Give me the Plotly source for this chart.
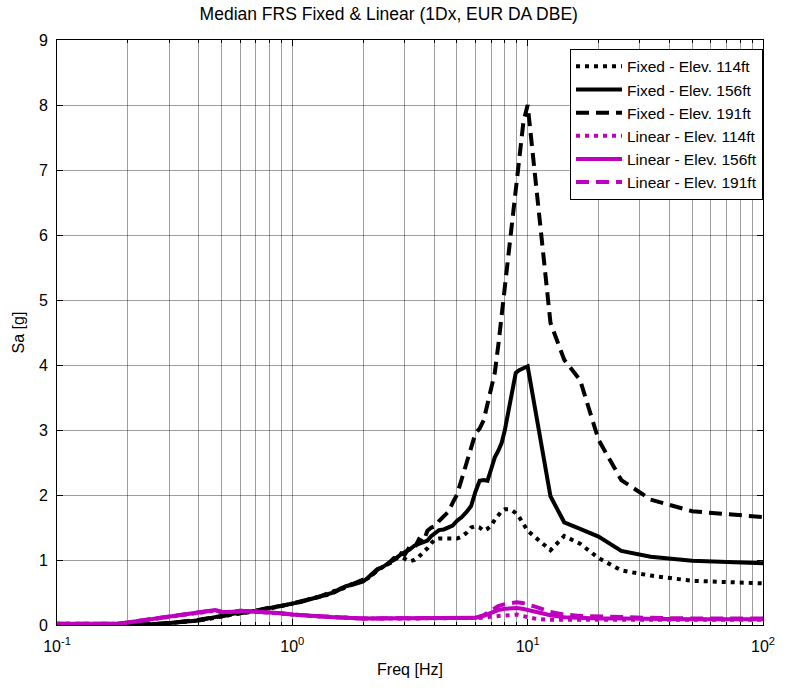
import plotly.graph_objects as go

# ---------------- data ----------------
freq_fixed = [0.10, 0.15, 0.20, 0.25, 0.30, 0.35, 0.40, 0.45, 0.50, 0.55,
              0.60, 0.70, 0.80, 0.90, 1.00, 1.10, 1.20, 1.30, 1.40, 1.50,
              1.60, 1.70, 1.80, 1.90, 2.00, 2.10, 2.20, 2.30, 2.40, 2.50,
              2.60, 2.70, 2.80, 2.90, 3.00, 3.15, 3.30, 3.45, 3.60, 3.75,
              3.90, 4.05, 4.20, 4.40, 4.60, 4.80, 5.00, 5.25, 5.50, 5.75,
              6.00, 6.25, 6.50, 6.75, 7.00, 7.25, 7.50, 7.75, 8.00, 8.30,
              8.60, 8.90, 9.20, 9.60, 10.0, 12.5, 14.3, 16.7, 20.0, 25.0,
              33.3, 50.0, 100.0]

fixed_114 = [0.00, 0.00, 0.00, 0.01, 0.03, 0.05, 0.07, 0.10, 0.13, 0.16,
             0.18, 0.21, 0.25, 0.30, 0.33, 0.36, 0.41, 0.44, 0.46, 0.52,
             0.55, 0.58, 0.64, 0.66, 0.68, 0.72, 0.79, 0.83, 0.89, 0.92,
             0.95, 0.98, 1.04, 1.05, 1.02, 0.98, 1.00, 1.05, 1.12, 1.18,
             1.26, 1.32, 1.33, 1.33, 1.33, 1.34, 1.33, 1.36, 1.42, 1.50,
             1.52, 1.50, 1.45, 1.48, 1.53, 1.62, 1.70, 1.75, 1.78, 1.78,
             1.76, 1.72, 1.66, 1.55, 1.45, 1.15, 1.37, 1.25, 1.03, 0.84,
             0.76, 0.68, 0.64]

fixed_156 = [0.00, 0.00, 0.00, 0.01, 0.03, 0.05, 0.07, 0.11, 0.14, 0.16,
             0.19, 0.22, 0.26, 0.29, 0.33, 0.36, 0.40, 0.44, 0.47, 0.50,
             0.56, 0.60, 0.62, 0.64, 0.67, 0.73, 0.80, 0.86, 0.88, 0.93,
             0.97, 1.00, 1.05, 1.09, 1.12, 1.16, 1.22, 1.25, 1.27, 1.30,
             1.37, 1.42, 1.46, 1.47, 1.50, 1.53, 1.60, 1.66, 1.74, 1.83,
             2.05, 2.22, 2.23, 2.22, 2.40, 2.58, 2.68, 2.80, 3.00, 3.28,
             3.60, 3.88, 3.92, 3.95, 3.98, 1.98, 1.58, 1.48, 1.36, 1.14,
             1.05, 0.99, 0.95]

fixed_191 = [0.00, 0.00, 0.00, 0.01, 0.03, 0.05, 0.08, 0.11, 0.13, 0.16,
             0.18, 0.22, 0.27, 0.29, 0.34, 0.37, 0.40, 0.43, 0.48, 0.50,
             0.55, 0.59, 0.63, 0.65, 0.70, 0.75, 0.78, 0.85, 0.90, 0.91,
             0.98, 1.03, 1.02, 1.10, 1.08, 1.20, 1.18, 1.32, 1.28, 1.45,
             1.50, 1.52, 1.60, 1.68, 1.74, 1.88, 2.00, 2.25, 2.50, 2.75,
             2.95, 3.02, 3.15, 3.40, 3.65, 3.88, 4.30, 4.75, 5.15, 5.65,
             6.15, 6.60, 7.10, 7.75, 8.00, 4.65, 4.08, 3.77, 2.85, 2.23,
             1.93, 1.75, 1.66]

freq_linear = [0.10, 0.15, 0.18, 0.20, 0.25, 0.30, 0.35, 0.40, 0.45, 0.47,
               0.50, 0.55, 0.60, 0.70, 0.80, 0.90, 1.00, 1.20, 1.50, 2.00,
               3.00, 4.00, 5.00, 5.50, 6.00, 6.50, 7.00, 7.50, 8.00, 8.50,
               9.00, 9.50, 10.0, 11.0, 12.5, 14.3, 16.7, 20.0, 25.0, 33.3,
               50.0, 100.0]

linear_114 = [0.02, 0.02, 0.02, 0.04, 0.09, 0.13, 0.16, 0.19, 0.22, 0.22,
              0.20, 0.20, 0.21, 0.21, 0.19, 0.17, 0.16, 0.14, 0.12, 0.10,
              0.10, 0.10, 0.10, 0.10, 0.10, 0.11, 0.13, 0.14, 0.15, 0.16,
              0.16, 0.14, 0.12, 0.09, 0.08, 0.08, 0.08, 0.08, 0.08, 0.08,
              0.08, 0.08]

linear_156 = [0.02, 0.02, 0.02, 0.04, 0.09, 0.13, 0.16, 0.19, 0.23, 0.23,
              0.20, 0.20, 0.22, 0.21, 0.19, 0.18, 0.16, 0.14, 0.12, 0.10,
              0.10, 0.10, 0.10, 0.10, 0.11, 0.14, 0.19, 0.23, 0.25, 0.26,
              0.26, 0.25, 0.23, 0.19, 0.15, 0.12, 0.11, 0.10, 0.10, 0.09,
              0.09, 0.09]

linear_191 = [0.02, 0.02, 0.02, 0.04, 0.09, 0.13, 0.16, 0.19, 0.23, 0.23,
              0.20, 0.20, 0.22, 0.21, 0.19, 0.18, 0.16, 0.14, 0.12, 0.10,
              0.10, 0.10, 0.10, 0.10, 0.11, 0.15, 0.22, 0.29, 0.32, 0.34,
              0.35, 0.34, 0.32, 0.27, 0.20, 0.16, 0.14, 0.13, 0.12, 0.11,
              0.10, 0.10]

series_names = ["Fixed - Elev. 114ft", "Fixed - Elev. 156ft", "Fixed - Elev. 191ft",
                "Linear - Elev. 114ft", "Linear - Elev. 156ft", "Linear - Elev. 191ft"]

x_tickvals = [0.1, 1, 10, 100]
x_ticktext = ["10<sup>-1</sup>", "10<sup>0</sup>", "10<sup>1</sup>", "10<sup>2</sup>"]
x_minor_vals = [m * d for d in (0.1, 1, 10) for m in range(2, 10)]
y_tickvals = [0, 1, 2, 3, 4, 5, 6, 7, 8, 9]

# ---------------- styles ----------------
BLACK = "#000000"
MAG = "#BF00BF"
DOT = "4px,5px"
DASH = "13px,7px"
LW = 4
FONT = "Liberation Sans, Arial, Helvetica, sans-serif"

fig = go.Figure()
specs = [
    (freq_fixed, fixed_114, BLACK, DOT),
    (freq_fixed, fixed_156, BLACK, "solid"),
    (freq_fixed, fixed_191, BLACK, DASH),
    (freq_linear, linear_114, MAG, DOT),
    (freq_linear, linear_156, MAG, "solid"),
    (freq_linear, linear_191, MAG, DASH),
]
for name, (fx, fy, col, dash) in zip(series_names, specs):
    fig.add_trace(go.Scatter(x=fx, y=fy, mode="lines", name=name,
                             line=dict(color=col, width=LW, dash=dash)))

grid_col = "rgba(0,0,0,0.38)"
fig.update_layout(
    width=787, height=690,
    paper_bgcolor="white", plot_bgcolor="white",
    margin=dict(l=57, r=16, t=40, b=65),
    font=dict(family=FONT, color="black"),
    title=dict(text="Median FRS Fixed & Linear (1Dx, EUR DA DBE)",
               font=dict(size=17.5, color="black", family=FONT),
               x=0.494, xref="container", xanchor="center",
               y=1 - 14 / 690, yref="container", yanchor="middle"),
    showlegend=True,
    legend=dict(x=1.0, y=0.985, xanchor="right", yanchor="top",
                bgcolor="white", bordercolor="black", borderwidth=1,
                font=dict(size=15.5, family=FONT, color="black"),
                itemwidth=46, tracegroupgap=0),
    xaxis=dict(type="log", range=[-1, 2],
               tickmode="array", tickvals=x_tickvals, ticktext=x_ticktext,
               tickfont=dict(size=16, family=FONT),
               ticks="inside", ticklen=6, tickcolor="black",
               ticklabelstandoff=7,
               showline=True, linecolor="black", linewidth=1, mirror="ticks",
               showgrid=True, gridcolor=grid_col, gridwidth=1,
               minor=dict(tickmode="array", tickvals=x_minor_vals,
                          ticks="inside", ticklen=3, tickcolor="black",
                          showgrid=True, gridcolor=grid_col, gridwidth=1),
               zeroline=False,
               title=dict(text="Freq [Hz]", font=dict(size=16, family=FONT), standoff=9)),
    yaxis=dict(range=[0, 9], tickvals=y_tickvals,
               tickfont=dict(size=16, family=FONT),
               ticks="inside", ticklen=6, tickcolor="black",
               ticklabelstandoff=5,
               showline=True, linecolor="black", linewidth=1, mirror="ticks",
               showgrid=True, gridcolor=grid_col, gridwidth=1,
               zeroline=False,
               title=dict(text="Sa [g]", font=dict(size=16, family=FONT), standoff=10)),
)

fig.write_html("out.html")
